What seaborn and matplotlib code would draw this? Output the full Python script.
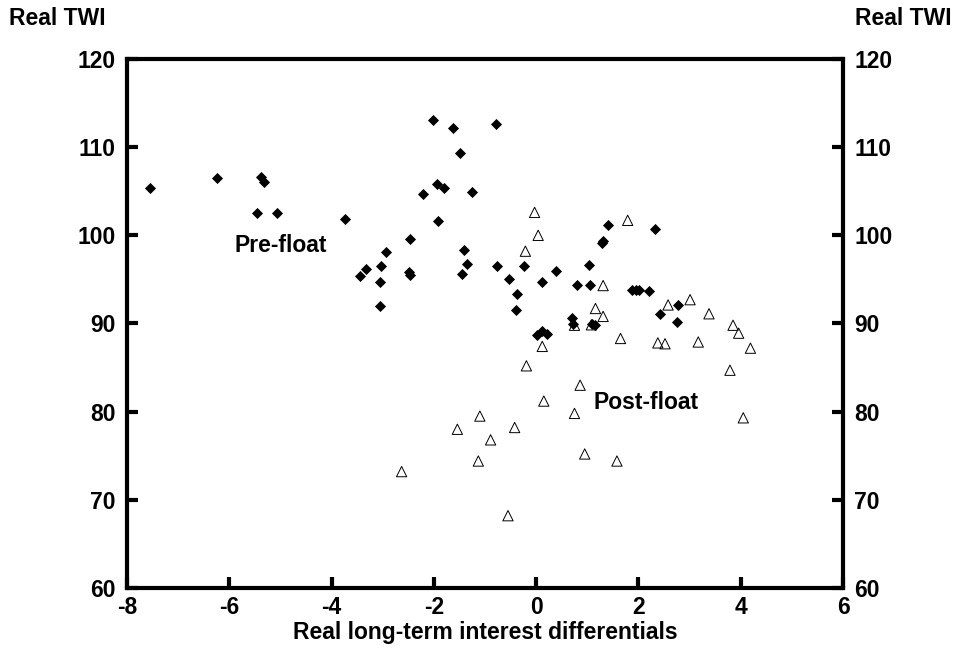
import numpy as np
import pandas as pd
import matplotlib
matplotlib.use("Agg")
import matplotlib.pyplot as plt
import seaborn as sns

# valori
pre_x = [-7.54, -6.24, -5.38, -5.33, -5.46, -5.06, -3.74, -2.02, -1.63, -1.48,
         -0.79, -2.21, -1.94, -1.81, -1.26, -1.91, -2.46, -2.93, -3.32, -3.45,
         -3.03, -3.06, -3.06, -2.49, -2.46, -1.41, -1.36, -1.44, -0.77, -0.53,
         -0.24, 0.12, 0.38, -0.38, -0.40, 0.02, 0.12, 0.22, 0.71, 0.73,
         0.80, 1.05, 1.04, 1.40, 1.29, 1.31, 2.33, 1.88, 1.96, 2.02,
         2.21, 2.42, 2.77, 2.75, 1.10, 1.15]
pre_y = [105.4, 106.5, 106.6, 106.1, 102.5, 102.5, 101.9, 113.1, 112.2, 109.3,
         112.6, 104.7, 105.8, 105.4, 104.9, 101.6, 99.6, 98.1, 96.2, 95.35,
         96.5, 94.7, 92.0, 95.85, 95.55, 98.3, 96.75, 95.6, 96.5, 95.1,
         96.5, 94.7, 96.0, 93.3, 91.5, 88.75, 89.1, 88.85, 90.6, 89.9,
         94.4, 94.4, 96.6, 101.2, 99.1, 99.3, 100.7, 93.8, 93.8, 93.85,
         93.7, 91.1, 92.1, 90.2, 89.9, 89.8]

post_x = [-0.03, 0.04, -0.21, 1.31, 1.79, 1.16, 1.31, 2.58, 3.01, 3.38,
          3.85, 3.96, 4.19, 3.79, 4.05, 1.65, 2.38, 2.52, 3.17, 0.75,
          1.08, 0.12, -0.19, 0.86, 0.15, 0.75, -1.10, -1.54, -0.42, -0.89,
          -1.13, 0.95, 1.58, -0.55, -2.63]
post_y = [102.6, 100.0, 98.2, 94.3, 101.7, 91.7, 90.8, 92.1, 92.7, 91.1,
          89.8, 88.9, 87.2, 84.7, 79.3, 88.3, 87.8, 87.7, 87.9, 89.8,
          89.85, 87.4, 85.2, 83.0, 81.2, 79.8, 79.5, 78.0, 78.2, 76.8,
          74.4, 75.2, 74.4, 68.2, 73.2]

x_ticks = [-8, -6, -4, -2, 0, 2, 4, 6]
y_ticks = [60, 70, 80, 90, 100, 110, 120]

pre = pd.DataFrame({"diff": pre_x, "twi": pre_y})
post = pd.DataFrame({"diff": post_x, "twi": post_y})

sns.set_style("white")
plt.rcParams["font.family"] = ["Liberation Sans", "DejaVu Sans"]
plt.rcParams["font.weight"] = "bold"
plt.rcParams["text.color"] = "black"
plt.rcParams["axes.labelcolor"] = "black"
plt.rcParams["axes.unicode_minus"] = False

FS = 16.5

fig = plt.figure(figsize=(9.56, 6.51), dpi=100)
ax = fig.add_axes([0.1328, 0.0968, 0.749, 0.8126])

sns.scatterplot(data=pre, x="diff", y="twi", marker="D", s=32, color="black",
                edgecolor="black", linewidth=0, ax=ax)
sns.scatterplot(data=post, x="diff", y="twi", marker="^", s=55,
                facecolor="none", edgecolor="black", linewidth=0.7, ax=ax)

ax.set_xlim(-8, 6)
ax.set_ylim(60, 120)
ax.set_xticks(x_ticks)
ax.set_yticks(y_ticks)
ax.set_xlabel("Real long-term interest differentials", fontsize=FS,
              fontweight="bold", labelpad=1)
ax.set_ylabel("")

for s in ax.spines.values():
    s.set_visible(True)
    s.set_linewidth(3)
    s.set_color("black")

ax.tick_params(axis="both", direction="in", length=8, width=3, labelsize=FS,
               colors="black")
ax.tick_params(axis="y", right=True, labelright=True, left=True, pad=8)
ax.tick_params(axis="x", top=False, bottom=True, pad=6)
for lab in ax.get_xticklabels() + ax.get_yticklabels():
    lab.set_fontweight("bold")

ax.text(-5.0, 98.9, "Pre-float", fontsize=FS, fontweight="bold", ha="center", va="center")
ax.text(2.14, 81.0, "Post-float", fontsize=FS, fontweight="bold", ha="center", va="center")

fig.text(0.009, 0.971, "Real TWI", fontsize=FS, fontweight="bold", ha="left", va="center")
fig.text(0.995, 0.971, "Real TWI", fontsize=FS, fontweight="bold", ha="right", va="center")

fig.savefig("out.png", dpi=100)
